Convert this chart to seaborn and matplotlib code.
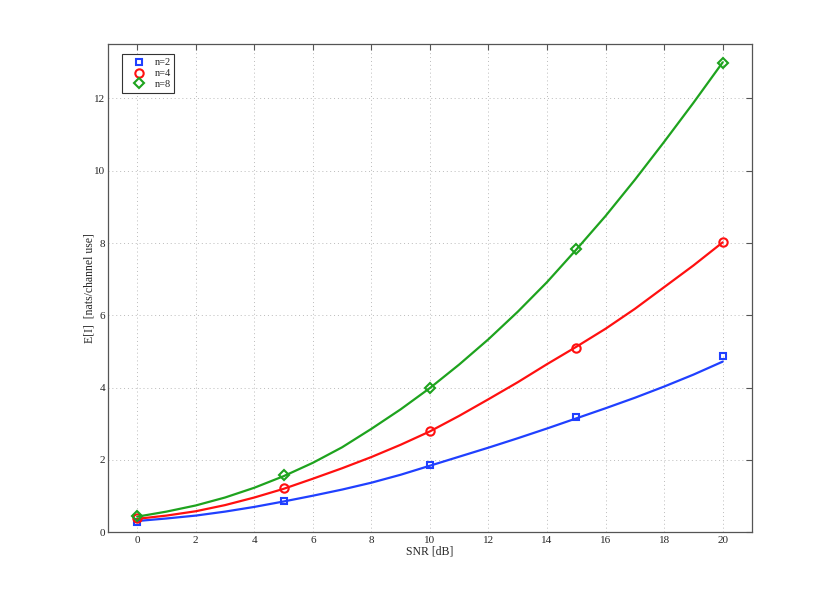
import pandas as pd
import seaborn as sns
from matplotlib import pyplot as plt
from matplotlib.lines import Line2D

# curve values read at integer SNR
snr = list(range(0, 21))
curve_n2 = [0.31, 0.38, 0.46, 0.57, 0.70, 0.85, 1.01, 1.18, 1.37, 1.59, 1.84,
            2.09, 2.34, 2.60, 2.87, 3.15, 3.43, 3.72, 4.03, 4.36, 4.72]
curve_n4 = [0.37, 0.46, 0.58, 0.75, 0.96, 1.20, 1.48, 1.77, 2.08, 2.42, 2.79,
            3.22, 3.68, 4.15, 4.65, 5.13, 5.63, 6.18, 6.78, 7.38, 8.02]
curve_n8 = [0.43, 0.57, 0.74, 0.96, 1.23, 1.55, 1.92, 2.35, 2.86, 3.40, 3.99,
            4.64, 5.34, 6.10, 6.92, 7.82, 8.75, 9.75, 10.80, 11.88, 13.00]

# simulated points
snr_pts = [0, 5, 10, 15, 20]
pts_n2 = [0.29, 0.87, 1.86, 3.18, 4.87]
pts_n4 = [0.38, 1.22, 2.81, 5.10, 8.03]
pts_n8 = [0.45, 1.57, 3.99, 7.83, 12.99]

labels = ['n=2', 'n=4', 'n=8']
colors = ['#2040ff', '#ff1010', '#1ea31e']
markers = ['s', 'o', 'D']
msizes = [5, 6, 5.5]

sns.set_style('white')
plt.rcParams['font.family'] = ['Liberation Serif', 'DejaVu Serif']

fig = plt.figure(figsize=(8.3, 5.98), dpi=100)
ax = fig.add_axes([0.13, 0.11, 0.776, 0.816])

curves = [curve_n2, curve_n4, curve_n8]
points = [pts_n2, pts_n4, pts_n8]
handles = []
for lab, col, mk, ms, cv, pt in zip(labels, colors, markers, msizes, curves, points):
    df = pd.DataFrame({'snr': snr, 'val': cv})
    sns.lineplot(x='snr', y='val', data=df, ax=ax, color=col, linewidth=1.6)
    dp = pd.DataFrame({'snr': snr_pts, 'val': pt})
    sns.lineplot(x='snr', y='val', data=dp, ax=ax, color=col, linestyle='',
                 marker=mk, markersize=ms, markerfacecolor='none',
                 markeredgecolor=col, markeredgewidth=1.5)
    handles.append(Line2D([], [], linestyle='', marker=mk, markersize=ms,
                          markerfacecolor='none', markeredgecolor=col,
                          markeredgewidth=1.5, label=lab))

ax.set(xlim=(-1, 21), ylim=(0, 13.5))
ax.set_xticks(range(0, 21, 2))
ax.set_yticks(range(0, 13, 2))
ax.grid(True, color='#bbbbbb', linestyle=(0, (1, 3)), linewidth=0.7)
ax.tick_params(direction='in', length=4, width=0.8, color='#555555',
               labelsize=8, top=True, right=True)
ax.tick_params(axis='x', pad=3)
ax.tick_params(axis='y', pad=2)
for s in ax.spines.values():
    s.set_color('#555555')
    s.set_linewidth(0.9)
ax.set_xlabel('SNR [dB]', fontsize=8.5, labelpad=0)
ax.set_ylabel('E[I]  [nats/channel use]', fontsize=8.5, labelpad=-1)

leg = ax.legend(handles=handles, loc='upper left', bbox_to_anchor=(0.022, 0.979),
                borderaxespad=0, fontsize=7.5, frameon=True, fancybox=False,
                framealpha=1, edgecolor='#333333', handlelength=2.5,
                borderpad=0.35, labelspacing=0.15, handletextpad=0.25)
leg.get_frame().set_linewidth(0.8)

fig.savefig('out.png', dpi=100)
